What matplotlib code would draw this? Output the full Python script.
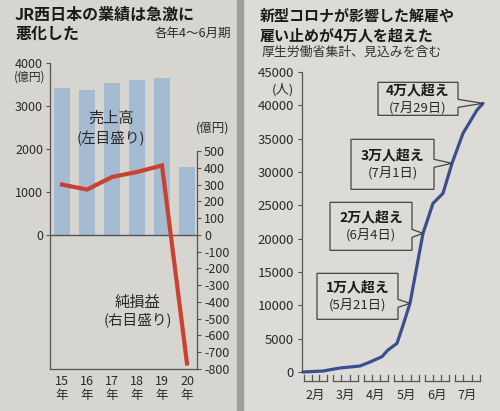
import numpy as np
import matplotlib
matplotlib.use('Agg')
import matplotlib.pyplot as plt
import matplotlib.patches as mpatches
import matplotlib.transforms as mtransforms

plt.rcParams['font.family'] = ['Noto Sans CJK JP', 'DejaVu Sans']
plt.rcParams['axes.unicode_minus'] = False

# left chart: JR West, April-June results (億円)
years = ['15\n年', '16\n年', '17\n年', '18\n年', '19\n年', '20\n年']
sales = [3420, 3370, 3530, 3600, 3650, 1580]
net_income = [300, 270, 345, 375, 414, -767]

# right chart: cumulative dismissals (days counted from Feb 1)
days = [0, 20, 37, 57, 67, 79, 85, 94, 100, 107, 120, 130, 140, 149, 160, 174, 180]
people = [0, 150, 600, 900, 1500, 2300, 3300, 4300, 7000, 10300, 20800, 25300,
          26800, 31300, 35800, 39300, 40300]
months = ['2月', '3月', '4月', '5月', '6月', '7月']
month_start = [0, 29, 60, 90, 121, 151, 182]

callout_bold = ['1万人超え', '2万人超え', '3万人超え', '4万人超え']
callout_date = ['(5月21日)', '(6月4日)', '(7月1日)', '(7月29日)']
callout_day = [107, 120, 149, 180]
callout_val = [10300, 20800, 31300, 40300]

W, H = 500, 411
BG = '#d7d5d0'
INK = '#2a2a2a'
BAR = '#a4bbd1'
RED = '#c9412f'
BLUE = '#3b4f8e'


def fx(x):
    return x / W


def fy(y):
    return 1 - y / H


fig = plt.figure(figsize=(5, 4.11), dpi=100)
fig.patch.set_facecolor(BG)
fig.add_artist(mpatches.Rectangle((fx(243), 0), 1 - fx(243), 1, transform=fig.transFigure,
                                  color='#dddbd7', zorder=-5))
fig.add_artist(mpatches.Rectangle((fx(237), 0), fx(6), 1, transform=fig.transFigure,
                                  color='#9e9d9a', zorder=-4))

# ---------- left chart ----------
ax1 = fig.add_axes([fx(50), fy(369), fx(147), (369 - 63) / H])
ax1.set_facecolor('none')
x = np.arange(len(years))
ax1.bar(x, sales, width=0.64, color=BAR, zorder=1)
ax1.axhline(0, color='#555555', lw=1, zorder=2)
ax1.set_xlim(-0.48, 5.4)
ax1.set_ylim(-3120, 4000)
ax1.set_yticks([0, 1000, 2000, 3000, 4000])
ax1.set_xticks(x)
ax1.set_xticklabels(years, fontsize=9, color=INK, linespacing=1.15)
ax1.tick_params(axis='x', length=0, pad=4)
ax1.tick_params(axis='y', length=3, width=0.8, pad=2, labelsize=9, colors='#555555',
                labelcolor=INK)
for s in ['top', 'right']:
    ax1.spines[s].set_visible(False)
for s in ['left', 'bottom']:
    ax1.spines[s].set_color('#555555')
    ax1.spines[s].set_linewidth(0.9)

ax2 = ax1.twinx()
ax2.set_ylim(-800, 1025)
ax2.plot(x, net_income, color=RED, lw=3, solid_joinstyle='miter', zorder=3)
ax2.set_yticks(np.arange(-800, 501, 100))
ax2.tick_params(axis='y', length=3, width=0.8, pad=2, labelsize=9, colors='#555555',
                labelcolor=INK)
for s in ['top', 'left', 'bottom']:
    ax2.spines[s].set_visible(False)
ax2.spines['right'].set_bounds(-800, 500)
ax2.spines['right'].set_color('#555555')
ax2.spines['right'].set_linewidth(0.9)

fig.text(fx(15), fy(15), 'JR西日本の業績は急激に', fontsize=11.5, fontweight='bold',
         color='#1a1a1a', va='center')
fig.text(fx(15), fy(34), '悪化した', fontsize=11.5, fontweight='bold', color='#1a1a1a',
         va='center')
fig.text(fx(231), fy(33), '各年4〜6月期', fontsize=9, color=INK, ha='right', va='center')
fig.text(fx(30), fy(77), '(億円)', fontsize=8.5, color=INK, ha='center', va='center')
fig.text(fx(213), fy(128), '(億円)', fontsize=9, color=INK, ha='center', va='center')
fig.text(fx(111), fy(118), '売上高', fontsize=11, color=INK, ha='center', va='center')
fig.text(fx(111), fy(138), '(左目盛り)', fontsize=10.5, color=INK, ha='center', va='center')
fig.text(fx(138), fy(302), '純損益', fontsize=11, color=INK, ha='center', va='center')
fig.text(fx(138), fy(320), '(右目盛り)', fontsize=10.5, color=INK, ha='center', va='center')

# ---------- right chart ----------
ax3 = fig.add_axes([fx(302), fy(372), fx(183), (372 - 72) / H])
ax3.set_facecolor('none')
ax3.set_xlim(-1, 182)
ax3.set_ylim(0, 45000)
ax3.plot(days, people, color=BLUE, lw=2.3, clip_on=False, zorder=5,
         solid_capstyle='round')
ax3.set_yticks(np.arange(0, 45001, 5000))
ax3.set_xticks([])
ax3.tick_params(axis='y', length=3, width=0.8, pad=3, labelsize=9.5, colors='#555555',
                labelcolor=INK)
for s in ['top', 'right', 'bottom']:
    ax3.spines[s].set_visible(False)
ax3.spines['left'].set_color('#555555')
ax3.spines['left'].set_linewidth(0.9)

xt = ax3.get_xaxis_transform()
for i, m in enumerate(months):
    x0 = month_start[i] + 1
    x1 = month_start[i + 1] - 5
    ax3.plot([x0, x1], [-0.03, -0.03], color='#555555', lw=0.9, transform=xt, clip_on=False)
    for t in np.linspace(x0, x1, 4):
        ax3.plot([t, t], [-0.01, -0.03], color='#555555', lw=0.9, transform=xt,
                 clip_on=False)
    ax3.text((x0 + x1) / 2, -0.077, m, transform=xt, fontsize=9, color=INK,
             ha='center', va='center')

fig.text(fx(260), fy(16), '新型コロナが影響した解雇や', fontsize=10.8, fontweight='bold',
         color='#1a1a1a', va='center')
fig.text(fx(260), fy(35), '雇い止めが4万人を超えた', fontsize=10.8, fontweight='bold',
         color='#1a1a1a', va='center')
fig.text(fx(262), fy(52), '厚生労働省集計、見込みを含む', fontsize=9.3, color='#333333',
         va='center')
fig.text(fx(283), fy(90), '(人)', fontsize=9.5, color=INK, ha='center', va='center')

# callout boxes: left, right, top, bottom in pixels relative to the pointer tip
boxes = [(-93, -12, 30, -16), (-93, -11, 31, -17), (-101, -18, 24, -26), (-105, -25, 21, -12)]
for i in range(len(callout_bold)):
    L, R, T, B = boxes[i]
    tr = mtransforms.ScaledTranslation(callout_day[i], callout_val[i], ax3.transData)
    ph = 4
    verts = [(L, T), (R, T), (R, ph), (0, 0), (R, -ph), (R, B), (L, B)]
    poly = mpatches.Polygon(verts, closed=True, transform=tr, facecolor='#dddbd7',
                            edgecolor='#444444', lw=0.9, zorder=3)
    fig.add_artist(poly)
    cx = (L + R) / 2
    cy = (T + B) / 2
    fig.text(cx, cy + 8.5, callout_bold[i], transform=tr, fontsize=10, fontweight='bold',
             color='#1a1a1a', ha='center', va='center', zorder=4)
    fig.text(cx, cy - 8.5, callout_date[i], transform=tr, fontsize=9.5, color=INK,
             ha='center', va='center', zorder=4)

fig.savefig('out.png', dpi=100, facecolor=fig.get_facecolor())
